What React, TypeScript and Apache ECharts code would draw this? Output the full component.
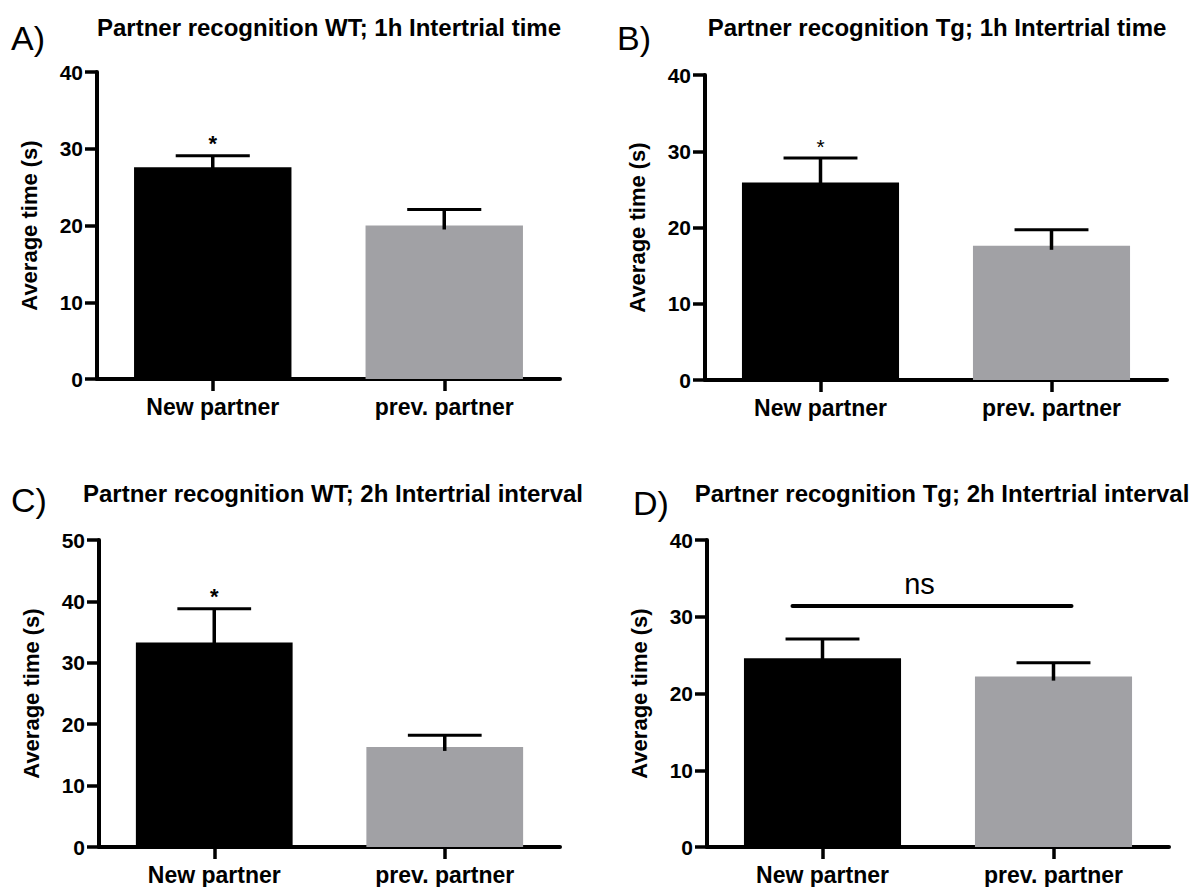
import React, { useEffect, useRef } from "react";
import * as echarts from "echarts";

// ---- data ----
const categories = ["New partner", "prev. partner"];
const panelLabels = ["A)", "B)", "C)", "D)"];
const panelTitles = [
  "Partner recognition WT; 1h Intertrial time",
  "Partner recognition Tg; 1h Intertrial time",
  "Partner recognition WT; 2h Intertrial interval",
  "Partner recognition Tg; 2h Intertrial interval",
];
const meansA = [27.6, 20.0];
const semA = [1.5, 2.1];
const meansB = [25.9, 17.6];
const semB = [3.2, 2.1];
const meansC = [33.3, 16.3];
const semC = [5.5, 1.9];
const meansD = [24.6, 22.2];
const semD = [2.5, 1.8];
const sigA = ["*", ""];
const sigB = ["*", ""];
const sigC = ["*", ""];
const sigD = ["", ""];
const yMaxes = [40, 40, 50, 40];
const yInterval = 10;
const nsLevelD = 31.4;
const nsTextD = "ns";

const barColors = ["#000000", "#a1a1a5"];
const FONT = "'Liberation Sans', Arial, Helvetica, sans-serif";

// layout (pixels)
const grids = [
  { left: 97, right: 644, top: 72, bottom: 508 },
  { left: 705, right: 37, top: 75, bottom: 507 },
  { left: 99, right: 644, top: 540, bottom: 40 },
  { left: 707, right: 35, top: 540, bottom: 40 },
];
const titlePos = [
  { x: 329, y: 27 },
  { x: 937, y: 27 },
  { x: 333, y: 493 },
  { x: 942, y: 493 },
];
const labelPos = [
  { x: 11, y: 38 },
  { x: 617, y: 38 },
  { x: 11, y: 500 },
  { x: 633, y: 503 },
];

const means = [meansA, meansB, meansC, meansD];
const sems = [semA, semB, semC, semD];
const sigs = [sigA, sigB, sigC, sigD];
const sigBold = [true, false, true, true];

export default function App() {
  const ref = useRef<HTMLDivElement>(null);
  useEffect(() => {
    if (!ref.current) return;
    const chart = echarts.init(ref.current, null, { renderer: "svg" });

    const grid = grids.map((g) => ({ ...g, containLabel: false }));
    const xAxis = grids.map((_, i) => ({
      type: "category",
      gridIndex: i,
      data: categories,
      axisLine: { show: true, lineStyle: { color: "#000", width: 4 } },
      axisTick: { show: true, alignWithLabel: true, length: 12, lineStyle: { color: "#000", width: 3.5 } },
      axisLabel: { color: "#000", fontSize: 23, fontWeight: "bold", fontFamily: FONT, margin: 16 },
      splitLine: { show: false },
    }));
    const yAxis = grids.map((_, i) => ({
      type: "value",
      gridIndex: i,
      min: 0,
      max: yMaxes[i],
      interval: yInterval,
      name: "Average time (s)",
      nameLocation: "middle",
      nameGap: 57,
      nameTextStyle: { color: "#000", fontSize: 22, fontWeight: "bold", fontFamily: FONT },
      axisLine: { show: true, onZero: false, lineStyle: { color: "#000", width: 4 } },
      axisTick: { show: true, length: 12, lineStyle: { color: "#000", width: 3.5 } },
      axisLabel: { color: "#000", fontSize: 21, fontWeight: "bold", fontFamily: FONT, margin: 14 },
      splitLine: { show: false },
    }));

    const series: any[] = [];
    grids.forEach((_, i) => {
      series.push({
        type: "bar",
        xAxisIndex: i,
        yAxisIndex: i,
        barWidth: "68%",
        data: means[i].map((v, k) => ({ value: v, itemStyle: { color: barColors[k] } })),
        z: 2,
      });
      series.push({
        type: "custom",
        xAxisIndex: i,
        yAxisIndex: i,
        z: 3,
        data: means[i].map((v, k) => [k, v, sems[i][k]]),
        renderItem: (params: any, api: any) => {
          const k = api.value(0);
          const v = api.value(1);
          const e = api.value(2);
          const base = api.coord([k, v]);
          const top = api.coord([k, v + e]);
          const band = api.size([1, 0])[0];
          const hw = band * 0.16;
          const sig = sigs[i][params.dataIndex];
          const children: any[] = [
            {
              type: "line",
              shape: { x1: base[0], y1: base[1] + 4, x2: top[0], y2: top[1] },
              style: { stroke: "#000", lineWidth: 3.5 },
            },
            {
              type: "line",
              shape: { x1: top[0] - hw, y1: top[1], x2: top[0] + hw, y2: top[1] },
              style: { stroke: "#000", lineWidth: 3 },
            },
          ];
          if (sig) {
            children.push({
              type: "text",
              x: top[0],
              y: top[1] - 12,
              style: {
                text: sig,
                fill: "#000",
                font: `${sigBold[i] ? "bold " : ""}${sigBold[i] ? 22 : 21}px ${FONT}`,
                textAlign: "center",
                textVerticalAlign: "middle",
              },
            });
          }
          return { type: "group", children };
        },
      });
    });

    // ns bracket for panel D
    series.push({
      type: "custom",
      xAxisIndex: 3,
      yAxisIndex: 3,
      z: 4,
      data: [[0, 1, nsLevelD]],
      renderItem: (_params: any, api: any) => {
        const a = api.coord([api.value(0), api.value(2)]);
        const b = api.coord([api.value(1), api.value(2)]);
        const band = api.size([1, 0])[0];
        return {
          type: "group",
          children: [
            {
              type: "line",
              shape: { x1: a[0] - band * 0.13, y1: a[1], x2: b[0] + band * 0.078, y2: b[1] },
              style: { stroke: "#000", lineWidth: 4, lineCap: "round" },
            },
            {
              type: "text",
              x: a[0] + band * 0.42,
              y: a[1] - 22,
              style: {
                text: nsTextD,
                fill: "#000",
                font: `29px ${FONT}`,
                textAlign: "center",
                textVerticalAlign: "middle",
              },
            },
          ],
        };
      },
    });

    const graphic: any[] = [];
    panelTitles.forEach((t, i) => {
      graphic.push({
        type: "text",
        x: titlePos[i].x,
        y: titlePos[i].y,
        style: {
          text: t,
          fill: "#000",
          font: `bold 24px ${FONT}`,
          textAlign: "center",
          textVerticalAlign: "middle",
        },
      });
      graphic.push({
        type: "text",
        x: labelPos[i].x,
        y: labelPos[i].y,
        style: {
          text: panelLabels[i],
          fill: "#000",
          font: `34px ${FONT}`,
          textAlign: "left",
          textVerticalAlign: "middle",
        },
      });
    });

    chart.setOption({
      animation: false,
      backgroundColor: "#ffffff",
      grid,
      xAxis,
      yAxis,
      series,
      graphic,
    });
    return () => chart.dispose();
  }, []);

  return (
    <div
      ref={ref}
      style={{ position: "fixed", left: 0, top: 0, width: 1204, height: 887, background: "#fff" }}
    />
  );
}
